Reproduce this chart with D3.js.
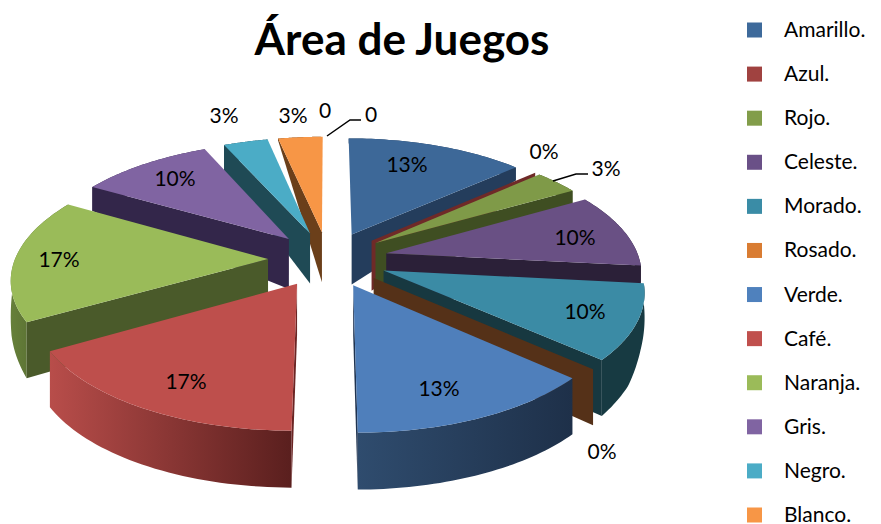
<!DOCTYPE html>
<html><head><meta charset="utf-8">
<script src="https://cdn.jsdelivr.net/npm/d3@7"></script>
<style>html,body{margin:0;padding:0;background:#fff}svg{display:block}text{font-family:Lato,sans-serif;fill:#000}</style>
</head><body><svg id="c" width="881" height="524"></svg>
<script>
const categories=["Amarillo.","Azul.","Rojo.","Celeste.","Morado.","Rosado.","Verde.","Café.","Naranja.","Gris.","Negro.","Blanco."];
const values=[4,0,1,3,3,0,4,5,5,3,1,1];
const extraLabels=["0","0"];
const title="Área de Juegos";
const legendColors=["#3e6a9b","#a04240","#829d4a","#6a5087","#3a8ca6","#d97c32","#4f81bd","#c0504d","#9bbb59","#8064a2","#4bacc6","#f79646"];
const topColors=["#3d6898","#8a3230","#7f9a48","#695084","#3b8ba5","#b06028","#4f7fbb","#be4f4c","#9abb59","#8064a2","#4bacc6","#f79646"];
const wallColors=["#243d5c","#6f2a28","#3f4e22","#2b2038","#173840","#553118","#1f3350","#6b2524","#4a5a2a","#33264a","#1f4a55","#6b3f1a"];
const rimStops=[["#243d5c","#243d5c"],["#6f2a28","#6f2a28"],["#3f4e22","#3f4e22"],["#2b2038","#2b2038"],["#173a42","#173a42"],["#553118","#553118"],["#2f4c6e","#1e3049"],["#b84d4a","#5a1f1e"],["#66803a","#4a5a2a"],["#33264a","#33264a"],["#1f4a55","#1f4a55"],["#6b3f1a","#6b3f1a"]];
// text layout, in page pixels
const labelPos=[[407,164],[544,151],[606,168],[575,237],[585,311],[602,451],[439,388],[186,381],[59,259],[175,178],[224,115],[293,115]];
const extraPos=[[325,110],[371,114]];
const leaders=[[[553,181],[576,174],[588,174]],[[327,136],[350,120],[361,120]]];

const W=881,H=524,TAU=Math.PI*2;
const svg=d3.select("#c");
const defs=svg.append("defs");
// projection of the tilted, perspective pie
const cx=328,cy=259,ax=253,by=117,persp=.148,explode=.237;
const project=(X,Y)=>{const s=1/(1+persp*Y);return [cx+ax*X*s,cy-by*Y*s];};
const tipDepth=50;
const rimDepth=d3.scaleLinear().domain([0,48,60,96,110,120,132,180,240,255,270,300,336,348,360]).range([5,13,13,20,35,50,56,57,56,45,15,24,26,2,0]);
const deg=a=>a*360/TAU;

const arcs=d3.pie().sort(null).value(d=>d)(values).map((d,i)=>({...d,i}));
arcs.forEach(d=>{
  d.mid=(d.startAngle+d.endAngle)/2;
  d.ox=explode*Math.sin(d.mid);d.oy=explode*Math.cos(d.mid);
  d.tip=project(d.ox,d.oy);
  d.rim=a=>project(d.ox+Math.sin(a),d.oy+Math.cos(a));
  d.samples=d3.range(0,41).map(k=>d.startAngle+(d.endAngle-d.startAngle)*k/40);
  d.edge=d.mid<Math.PI||d.mid===Math.PI?d.endAngle:d.startAngle;
});
const line=d3.line();
const order=arcs.slice().sort((p,q)=>Math.abs(deg(q.mid)-180)-Math.abs(deg(p.mid)-180));
const pie=svg.append("g");
order.forEach(d=>{
  const g=pie.append("g");
  const gid="rim"+d.i;
  const xs=d.samples.map(a=>d.rim(a)[0]);
  const grad=defs.append("linearGradient").attr("id",gid).attr("gradientUnits","userSpaceOnUse")
    .attr("x1",d3.min(xs)).attr("x2",d3.max(xs)).attr("y1",0).attr("y2",0);
  grad.append("stop").attr("offset",0).attr("stop-color",rimStops[d.i][0]);
  grad.append("stop").attr("offset",1).attr("stop-color",rimStops[d.i][1]);
  // outer wall
  const up=d.samples.map(a=>d.rim(a));
  const low=d.samples.map(a=>{const p=d.rim(a);return [p[0],p[1]+rimDepth(deg(a))];}).reverse();
  if(d.value>0) g.append("path").attr("d",line(up.concat(low))+"Z").attr("fill",`url(#${gid})`);
  // radial wall facing the viewer
  const r=d.rim(d.edge);
  g.append("path").attr("d",line([d.tip,r,[r[0],r[1]+rimDepth(deg(d.edge))],[d.tip[0],d.tip[1]+tipDepth]])+"Z").attr("fill",wallColors[d.i]);
  // top face
  if(d.value>0) g.append("path").attr("d",line([d.tip].concat(up))+"Z").attr("fill",topColors[d.i]);
});

// labels
const total=d3.sum(values);
svg.append("g").selectAll("text").data(values).join("text")
  .attr("x",(d,i)=>labelPos[i][0]).attr("y",(d,i)=>labelPos[i][1]+7.5)
  .attr("text-anchor","middle").attr("font-size",21)
  .text(d=>Math.round(d/total*100)+"%");
svg.append("g").selectAll("text").data(extraLabels).join("text")
  .attr("x",(d,i)=>extraPos[i][0]).attr("y",(d,i)=>extraPos[i][1]+7.5)
  .attr("text-anchor","middle").attr("font-size",21).text(d=>d);
svg.append("g").selectAll("path").data(leaders).join("path")
  .attr("d",d=>line(d)).attr("fill","none").attr("stroke","#000").attr("stroke-width",1.5);

svg.append("text").attr("x",402).attr("y",55).attr("text-anchor","middle")
  .attr("font-size",44).attr("font-weight",700).text(title);

// legend
const legendY=d3.scalePoint().domain(categories).range([30,515]);
const lg=svg.append("g").selectAll("g").data(categories).join("g")
  .attr("transform",d=>`translate(0,${legendY(d)})`);
lg.append("rect").attr("x",747).attr("y",-7.5).attr("width",15).attr("height",15).attr("fill",(d,i)=>legendColors[i]);
lg.append("text").attr("x",784).attr("y",7).attr("font-size",21).text(d=>d);
</script></body></html>
